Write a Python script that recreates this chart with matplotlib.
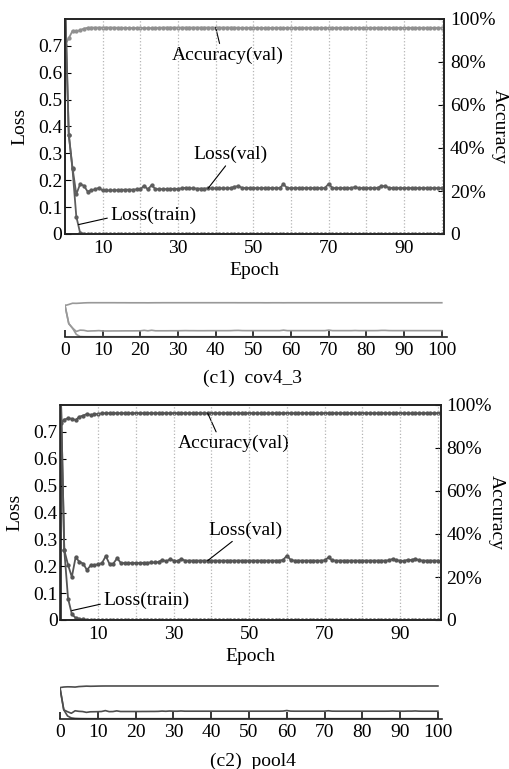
#!/usr/bin/python3

import matplotlib

matplotlib.use('Agg')

import matplotlib.pyplot as plt

plt.rcParams['font.family'] = ['Liberation Serif', 'DejaVu Serif']
plt.rcParams['font.size'] = 14
plt.rcParams['axes.unicode_minus'] = False

epochs = list(range(101))

# (c1) cov4_3
acc_c1 = [88.0, 91.0, 94.5, 94.2, 94.8, 95.5, 95.9, 96.0, 96.0, 96.0,
          96.0, 96.0, 96.0, 96.0, 95.9, 95.9, 95.9, 95.8, 95.8, 95.8,
          95.8, 95.8, 95.7, 95.8, 95.9, 95.9, 96.0, 96.0, 96.0, 96.0,
          96.0, 96.0, 96.0, 96.0, 96.0, 96.0, 96.0, 96.0, 96.0, 96.0,
          96.0, 96.0, 96.0, 96.0, 96.0, 96.0, 95.9, 95.9, 95.9, 95.9,
          95.9, 95.9, 95.9, 95.8, 95.8, 95.9, 95.9, 95.9, 95.8, 95.9,
          95.9, 95.9, 95.9, 95.9, 95.9, 95.9, 95.9, 95.9, 95.9, 95.9,
          95.9, 95.9, 95.9, 95.9, 95.9, 95.9, 95.9, 95.9, 95.9, 95.9,
          95.9, 95.9, 95.9, 95.9, 95.9, 95.9, 95.9, 95.9, 95.9, 95.9,
          95.9, 95.9, 95.9, 95.9, 95.9, 95.9, 95.9, 95.9, 95.9, 95.9,
          95.9]
loss_train_c1 = [0.88, 0.37, 0.24, 0.065, 0.005, 0.001] + [0.0] * 95
loss_val_c1 = [0.88, 0.37, 0.245, 0.148, 0.185, 0.180, 0.158, 0.163, 0.166, 0.172,
               0.162, 0.162, 0.162, 0.163, 0.163, 0.164, 0.165, 0.165, 0.165, 0.166,
               0.166, 0.180, 0.166, 0.182, 0.167, 0.167, 0.167, 0.167, 0.168, 0.168,
               0.168, 0.170, 0.172, 0.170, 0.170, 0.169, 0.169, 0.169, 0.170, 0.170,
               0.170, 0.170, 0.170, 0.170, 0.171, 0.176, 0.178, 0.172, 0.171, 0.171,
               0.171, 0.171, 0.171, 0.171, 0.171, 0.171, 0.171, 0.171, 0.185, 0.171,
               0.171, 0.171, 0.171, 0.171, 0.171, 0.171, 0.171, 0.171, 0.171, 0.171,
               0.187, 0.171, 0.171, 0.171, 0.171, 0.171, 0.171, 0.175, 0.171, 0.171,
               0.171, 0.171, 0.171, 0.172, 0.178, 0.178, 0.172, 0.171, 0.171, 0.171,
               0.171, 0.171, 0.171, 0.171, 0.171, 0.171, 0.171, 0.171, 0.171, 0.171,
               0.171]

# (c2) pool4
acc_c2 = [91.5, 93.2, 93.8, 93.6, 93.0, 94.5, 95.1, 95.8, 95.4, 95.6,
          95.9, 96.1, 96.2, 96.2, 96.2, 96.2, 96.2, 96.2, 96.2, 96.2,
          96.2, 96.2, 96.2, 96.2, 96.2, 96.2, 96.2, 96.2, 96.2, 96.2,
          96.2, 96.2, 96.2, 96.2, 96.2, 96.2, 96.2, 96.2, 96.2, 96.2,
          96.2, 96.2, 96.2, 96.2, 96.2, 96.2, 96.2, 96.2, 96.2, 96.2,
          96.2, 96.2, 96.2, 96.1, 96.1, 96.1, 96.2, 96.2, 96.2, 96.2,
          96.2, 96.2, 96.2, 96.2, 96.2, 96.2, 96.2, 96.2, 96.2, 96.2,
          96.2, 96.2, 96.2, 96.2, 96.2, 96.2, 96.2, 96.2, 96.2, 96.2,
          96.2, 96.2, 96.2, 96.2, 96.2, 96.2, 96.2, 96.2, 96.2, 96.2,
          96.2, 96.2, 96.2, 96.1, 96.1, 96.2, 96.2, 96.2, 96.2, 96.2,
          96.2]
loss_train_c2 = [0.90, 0.26, 0.08, 0.022, 0.008, 0.004, 0.002, 0.001] + [0.0] * 93
loss_val_c2 = [0.90, 0.26, 0.205, 0.160, 0.233, 0.217, 0.210, 0.186, 0.203, 0.205,
               0.207, 0.212, 0.238, 0.208, 0.210, 0.230, 0.212, 0.212, 0.212, 0.212,
               0.212, 0.212, 0.213, 0.213, 0.214, 0.214, 0.216, 0.224, 0.218, 0.226,
               0.221, 0.220, 0.227, 0.221, 0.221, 0.221, 0.221, 0.221, 0.221, 0.221,
               0.221, 0.221, 0.221, 0.221, 0.221, 0.221, 0.221, 0.221, 0.221, 0.221,
               0.221, 0.221, 0.221, 0.221, 0.221, 0.221, 0.221, 0.221, 0.221, 0.224,
               0.240, 0.223, 0.221, 0.221, 0.221, 0.221, 0.221, 0.221, 0.221, 0.221,
               0.222, 0.233, 0.222, 0.221, 0.221, 0.221, 0.221, 0.221, 0.221, 0.221,
               0.221, 0.221, 0.221, 0.221, 0.221, 0.221, 0.221, 0.222, 0.227, 0.222,
               0.221, 0.220, 0.224, 0.223, 0.228, 0.222, 0.221, 0.221, 0.221, 0.221,
               0.221]

loss_ticks = [0, 0.1, 0.2, 0.3, 0.4, 0.5, 0.6, 0.7]
loss_ticklabels = ['0', '0.1', '0.2', '0.3', '0.4', '0.5', '0.6', '0.7']
acc_ticks = [0, 20, 40, 60, 80, 100]
acc_ticklabels = ['0', '20%', '40%', '60%', '80%', '100%']
epoch_major = [10, 30, 50, 70, 90]
epoch_minor = [20, 40, 60, 80, 100]
strip_ticks = [0, 10, 20, 30, 40, 50, 60, 70, 80, 90, 100]

W, H = 510, 769


def box(left, top, right, bottom):
    # pixel box -> figure fraction
    return [left / W, 1 - bottom / H, (right - left) / W, (bottom - top) / H]


def plot_main(fig, rect, acc, lt, lv, acc_color, loss_color, xmax, notes):
    ax = fig.add_axes(rect)
    ax2 = ax.twinx()
    ax.set_zorder(ax2.get_zorder() + 1)
    ax.patch.set_visible(False)

    ax2.plot(epochs, acc, color=acc_color, lw=1.3, marker='o', ms=2.1)
    ax.plot(epochs, lv, color=loss_color, lw=1.3, marker='o', ms=2.1)
    ax.plot(epochs, lt, color=loss_color, lw=1.3, marker='o', ms=2.1)

    ax.set_xlim(0, xmax)
    ax.set_ylim(0, 0.8)
    ax2.set_ylim(0, 100)
    ax.set_xticks(epoch_major)
    ax.set_xticks(epoch_minor, minor=True)
    ax.grid(axis='x', which='both', linestyle=':', color='#b5b5b5', lw=0.9)
    ax.set_yticks(loss_ticks)
    ax.set_yticklabels(loss_ticklabels)
    ax2.set_yticks(acc_ticks)
    ax2.set_yticklabels(acc_ticklabels)
    ax.tick_params(axis='x', which='both', length=0, pad=4)
    ax.tick_params(axis='y', direction='in', length=4, pad=2)
    ax2.tick_params(axis='y', direction='in', length=4, pad=4)
    for a in (ax, ax2):
        for s in a.spines.values():
            s.set_linewidth(1.2)
            s.set_color('#222222')

    ax.set_xlabel('Epoch', va='center')
    ax.xaxis.set_label_coords(0.5, -0.17)
    ax.set_ylabel('Loss', va='center')
    ax.yaxis.set_label_coords(-0.12, 0.5)
    ax2.set_ylabel('Accuracy', rotation=270, va='center')
    ax2.yaxis.set_label_coords(1.145, 0.5)

    for target, text, xy, xytext, rel in notes:
        a = ax2 if target == 'acc' else ax
        a.annotate(text, xy=xy, xytext=xytext, ha='center', va='center',
                   arrowprops=dict(arrowstyle='-', color='black', lw=0.8,
                                   shrinkA=0, shrinkB=0, relpos=rel))
    return ax


def plot_strip(fig, rect, acc, lt, lv, color, xmax, ymax, caption, cap_y):
    ax = fig.add_axes(rect)
    ax.plot(epochs, [a / 100 for a in acc], color=color, lw=1.2)
    ax.plot(epochs, lv, color=color, lw=1.2)
    ax.plot(epochs, lt, color=color, lw=1.2)
    ax.set_xlim(0, xmax)
    ax.set_ylim(0, ymax)
    ax.set_xticks(strip_ticks)
    ax.set_yticks([])
    for side in ('top', 'left', 'right'):
        ax.spines[side].set_visible(False)
    ax.spines['bottom'].set_linewidth(1.2)
    ax.spines['bottom'].set_color('#222222')
    ax.tick_params(axis='x', direction='in', length=5, width=1.1, pad=4)
    ax.patch.set_visible(False)
    fig.text(0.495, 1 - cap_y / H, caption, ha='center', va='center')


fig = plt.figure(figsize=(5.1, 7.69), dpi=100)

plot_main(fig, box(65, 19, 444.3, 234), acc_c1, loss_train_c1, loss_val_c1,
          '#909090', '#5e5e5e', 100.7,
          [('acc', 'Accuracy(val)', (epochs[40], acc_c1[40]), (43.3, 83.3), (0.43, 1.0)),
           ('loss', 'Loss(val)', (epochs[38], loss_val_c1[38]), (43.8, 0.296), (0.47, 0.0)),
           ('loss', 'Loss(train)', (3.6, 0.035), (23.4, 0.071), (0.0, 0.35))])

plot_strip(fig, box(65, 296.7, 446.7, 336.7), acc_c1, loss_train_c1, loss_val_c1,
           '#999999', 101.3, 40 / 35.4, '(c1)  cov4_3', 378)

plot_main(fig, box(60.5, 405, 441, 620), acc_c2, loss_train_c2, loss_val_c2,
          '#555555', '#555555', 100.8,
          [('acc', 'Accuracy(val)', (epochs[39], acc_c2[39]), (46.0, 82.2), (0.35, 1.0)),
           ('loss', 'Loss(val)', (epochs[39], loss_val_c2[39]), (49.0, 0.335), (0.37, 0.0)),
           ('loss', 'Loss(train)', (3.0, 0.035), (22.7, 0.074), (0.0, 0.3))])

plot_strip(fig, box(60, 678.7, 441.7, 718.7), acc_c2, loss_train_c2, loss_val_c2,
           '#4d4d4d', 101.0, 40 / 34.0, '(c2)  pool4', 761.7)

fig.savefig('out.png', dpi=100)
